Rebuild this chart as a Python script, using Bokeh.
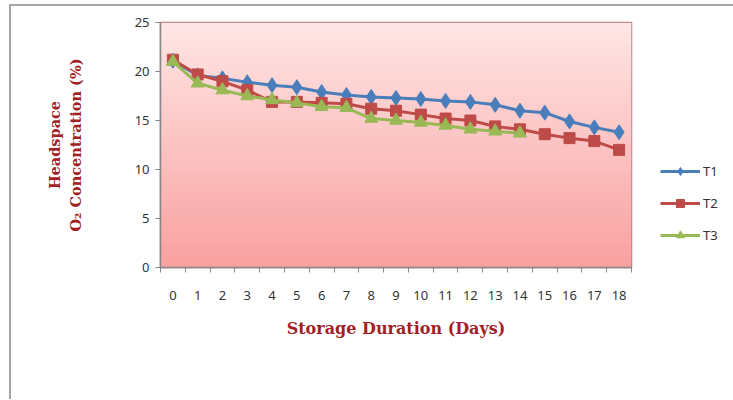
from bokeh.plotting import figure
from bokeh.models import FixedTicker, Legend, LegendItem
from bokeh.embed import file_html
from bokeh.resources import INLINE

days = list(range(19))
t1 = [21.1, 19.6, 19.3, 18.9, 18.6, 18.4, 17.9, 17.6, 17.4, 17.3, 17.2, 17.0, 16.9, 16.6, 16.0, 15.8, 14.9, 14.3, 13.8]
t2 = [21.2, 19.7, 19.0, 18.1, 16.9, 16.9, 16.8, 16.7, 16.2, 16.0, 15.6, 15.2, 15.0, 14.4, 14.1, 13.6, 13.2, 12.9, 12.0]
t3_days = list(range(15))
t3 = [21.0, 18.8, 18.1, 17.5, 17.1, 16.8, 16.4, 16.3, 15.2, 15.0, 14.8, 14.5, 14.1, 13.9, 13.7]
y_ticks = [0, 5, 10, 15, 20, 25]

p = figure(frame_width=471, frame_height=245, x_range=(-0.5, 18.5), y_range=(0, 25),
           output_backend="svg", toolbar_location=None,
           min_border_left=149, min_border_top=16, min_border_right=100, min_border_bottom=132)
p.styles = {"border-left": "2px solid #a6a6a6", "border-top": "2px solid #a6a6a6",
            "margin-left": "9px", "margin-top": "4px"}
p.background_fill_color = "white"
p.border_fill_color = "white"
p.outline_line_color = "#b5707a"
p.outline_line_width = 1.5
p.grid.visible = False

# gradient background
n = 60
top_c = (255, 230, 230)
bot_c = (249, 160, 160)
bottoms = [25 * i / n for i in range(n)]
tops = [min(25.0, 25 * (i + 1.8) / n) for i in range(n)]
cols = []
for i in range(n):
    f = (i + 0.5) / n
    c = tuple(int(round(bot_c[k] + (top_c[k] - bot_c[k]) * f)) for k in range(3))
    cols.append("#%02x%02x%02x" % c)
p.quad(left=-0.5, right=18.5, bottom=bottoms, top=tops, fill_color=cols, line_color=None)

c1, c2, c3 = "#4a7ebb", "#be4b48", "#98b954"
l1 = p.line(days, t1, line_color=c1, line_width=3)
m1 = p.scatter(days, t1, marker="diamond", size=15, fill_color=c1, line_color=c1)
l2 = p.line(days, t2, line_color=c2, line_width=3)
m2 = p.scatter(days, t2, marker="square", size=11, fill_color=c2, line_color=c2)
l3 = p.line(t3_days, t3, line_color=c3, line_width=3)
m3 = p.scatter(t3_days, t3, marker="triangle", size=13, fill_color=c3, line_color=c3)

legend = Legend(items=[LegendItem(label="T1", renderers=[l1, m1]),
                       LegendItem(label="T2", renderers=[l2, m2]),
                       LegendItem(label="T3", renderers=[l3, m3])],
                location=(29, 22), orientation="vertical")
legend.background_fill_alpha = 0
legend.border_line_color = None
legend.label_text_font = "Noto Sans"
legend.label_text_font_size = "13px"
legend.label_text_color = "#333333"
legend.glyph_width = 40
legend.glyph_height = 20
legend.label_standoff = 3
legend.spacing = 12
legend.padding = 5
legend.margin = 0
p.add_layout(legend, "right")

# x axis
p.xaxis.ticker = FixedTicker(ticks=days, minor_ticks=[d - 0.5 for d in days] + [18.5])
p.xaxis.major_tick_line_color = None
p.xaxis.minor_tick_line_color = "#868686"
p.xaxis.minor_tick_out = 5
p.xaxis.minor_tick_in = 0
p.xaxis.axis_line_color = "#868686"
p.xaxis.axis_line_width = 1.5
p.xaxis.major_label_text_font = "Noto Sans"
p.xaxis.major_label_text_font_size = "13px"
p.xaxis.major_label_text_color = "#333333"
p.xaxis.major_label_standoff = 17
p.xaxis.axis_label = "Storage Duration (Days)"
p.xaxis.axis_label_text_font = "DejaVu Serif"
p.xaxis.axis_label_text_font_style = "bold"
p.xaxis.axis_label_text_font_size = "16px"
p.xaxis.axis_label_text_color = "#a31f26"
p.xaxis.axis_label_standoff = 16

# y axis
p.yaxis.ticker = FixedTicker(ticks=y_ticks)
p.yaxis.minor_tick_line_color = None
p.yaxis.major_tick_line_color = "#868686"
p.yaxis.major_tick_out = 5
p.yaxis.major_tick_in = 0
p.yaxis.axis_line_color = "#868686"
p.yaxis.axis_line_width = 1.5
p.yaxis.major_label_text_font = "Noto Sans"
p.yaxis.major_label_text_font_size = "13px"
p.yaxis.major_label_text_color = "#333333"
p.yaxis.major_label_standoff = 6
p.yaxis.axis_label = "Headspace\nO₂ Concentration (%)"
p.yaxis.axis_label_text_font = "DejaVu Serif"
p.yaxis.axis_label_text_font_style = "bold"
p.yaxis.axis_label_text_font_size = "14.5px"
p.yaxis.axis_label_text_color = "#a31f26"
p.yaxis.axis_label_standoff = 48

open("out.html", "w").write(file_html(p, INLINE))
